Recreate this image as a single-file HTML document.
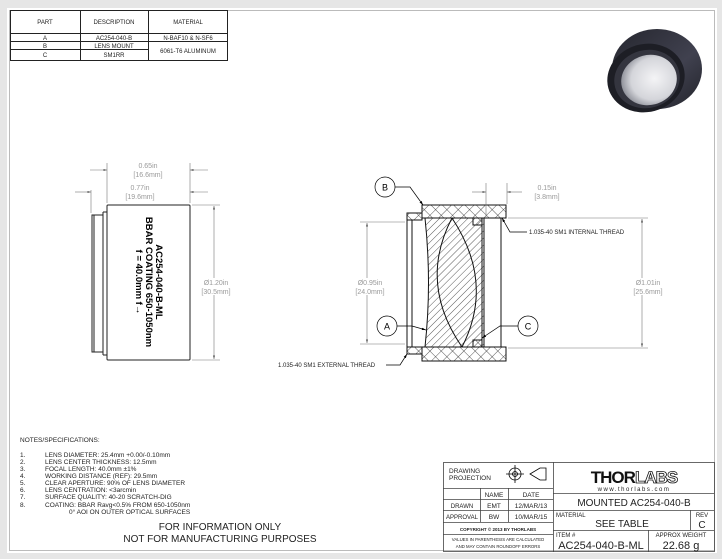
<!DOCTYPE html>
<html><head><meta charset="utf-8"><style>
html,body{margin:0;padding:0;background:#e6e6e6;}
svg{display:block;font-family:"Liberation Sans",sans-serif;}
</style></head><body>
<svg width="722" height="559" viewBox="0 0 722 559" xmlns="http://www.w3.org/2000/svg">
<defs>
<pattern id="h1" width="5" height="5" patternUnits="userSpaceOnUse" patternTransform="rotate(45)"><line x1="0" y1="0" x2="0" y2="5" stroke="#111" stroke-width="0.7"/></pattern>
<pattern id="hx" width="8" height="8" patternUnits="userSpaceOnUse" patternTransform="rotate(45)"><line x1="0" y1="0" x2="0" y2="8" stroke="#111" stroke-width="0.7"/><line x1="0" y1="0" x2="8" y2="0" stroke="#111" stroke-width="0.7"/></pattern>
<marker id="ar" viewBox="0 0 10 10" refX="10" refY="5" markerWidth="6" markerHeight="6" orient="auto-start-reverse"><path d="M0,2 L10,5 L0,8z" fill="#555"/></marker>
<marker id="ak" viewBox="0 0 10 10" refX="10" refY="5" markerWidth="6" markerHeight="6" orient="auto"><path d="M0,2 L10,5 L0,8z" fill="#000"/></marker>
<radialGradient id="lg" cx="0.6" cy="0.5" r="0.6"><stop offset="0" stop-color="#f4f4f6"/><stop offset="0.7" stop-color="#d4d5da"/><stop offset="1" stop-color="#8f919a"/></radialGradient>
<linearGradient id="bd" x1="0" y1="0" x2="1" y2="1"><stop offset="0" stop-color="#25262e"/><stop offset="0.6" stop-color="#40414f"/><stop offset="1" stop-color="#22232a"/></linearGradient>
</defs>
<rect x="7" y="8" width="710" height="545" fill="#fff"/>
<rect x="9.5" y="10.5" width="705" height="540" fill="none" stroke="#bbb" stroke-width="1"/>

<!-- parts table -->
<g stroke="#222" stroke-width="1" fill="none">
<rect x="10.5" y="10.5" width="217" height="50"/>
<line x1="10" y1="33.5" x2="228" y2="33.5"/>
<line x1="10" y1="41.5" x2="228" y2="41.5"/>
<line x1="10" y1="49.5" x2="148" y2="49.5"/>
<line x1="80.5" y1="10" x2="80.5" y2="61"/>
<line x1="148.5" y1="10" x2="148.5" y2="61"/>
</g>
<g font-size="6" fill="#222" text-anchor="middle">
<text x="45" y="24">PART</text><text x="114" y="24">DESCRIPTION</text><text x="188" y="24">MATERIAL</text>
<text x="45" y="40">A</text><text x="114" y="40">AC254-040-B</text><text x="188" y="40">N-BAF10 &amp; N-SF6</text>
<text x="45" y="48">B</text><text x="114" y="48">LENS MOUNT</text><text x="188" y="53">6061-T6 ALUMINUM</text>
<text x="45" y="57">C</text><text x="114" y="57">SM1RR</text>
</g>

<!-- product image -->
<g>
<ellipse cx="657" cy="69" rx="45" ry="40" fill="url(#bd)"/>
<ellipse cx="646" cy="78" rx="39" ry="34" transform="rotate(-15 646 78)" fill="#1d1e25"/>
<ellipse cx="647" cy="79" rx="33" ry="29" transform="rotate(-15 647 79)" fill="#34353f"/>
<ellipse cx="649" cy="80" rx="28" ry="25" transform="rotate(-15 649 80)" fill="url(#lg)"/>
</g>

<!-- left view -->
<g stroke="#222" fill="none" stroke-width="1">
<rect x="107" y="205" width="83" height="155" rx="1"/>
<rect x="92" y="215" width="11" height="137"/>
<line x1="103" y1="212" x2="103" y2="355"/><line x1="103" y1="212" x2="107" y2="212"/><line x1="103" y1="355" x2="107" y2="355"/>
<line x1="94" y1="215" x2="94" y2="352"/>
</g>
<g stroke="#777" stroke-width="0.6" fill="none">
<line x1="107" y1="163" x2="107" y2="203"/><line x1="190" y1="163" x2="190" y2="203"/><line x1="91" y1="190" x2="91" y2="213"/>
<line x1="90" y1="170" x2="107" y2="170" marker-end="url(#ar)"/><line x1="208" y1="170" x2="190" y2="170" marker-end="url(#ar)"/>
<line x1="75" y1="192" x2="91" y2="192" marker-end="url(#ar)"/><line x1="208" y1="192" x2="190" y2="192" marker-end="url(#ar)"/>
<line x1="192" y1="205" x2="220" y2="205"/><line x1="192" y1="360" x2="220" y2="360"/>
<line x1="214" y1="278" x2="214" y2="206" marker-end="url(#ar)"/><line x1="214" y1="295" x2="214" y2="359" marker-end="url(#ar)"/>
</g>
<g font-size="7" fill="#999" text-anchor="middle">
<text x="148" y="168">0.65in</text><text x="148" y="177">[16.6mm]</text>
<text x="140" y="190">0.77in</text><text x="140" y="199">[19.6mm]</text>
<text x="216" y="285">Ø1.20in</text><text x="216" y="294">[30.5mm]</text>
</g>
<g transform="translate(148,282) rotate(90)" font-size="9.5" font-weight="bold" text-anchor="middle" fill="#000">
<text x="0" y="-8">AC254-040-B-ML</text><text x="0" y="2">BBAR COATING 650-1050nm</text><text x="0" y="12">f = 40.0mm f→</text>
</g>

<!-- section view -->
<g stroke="#111" stroke-width="1">
<path d="M422,205 L506,205 L506,218 L422,218 Z" fill="url(#hx)"/>
<path d="M422,347 L506,347 L506,361 L422,361 Z" fill="url(#hx)"/>
<path d="M407,213 L422,213 L422,220 L407,220 Z" fill="url(#hx)"/>
<path d="M407,347 L422,347 L422,354 L407,354 Z" fill="url(#hx)"/>
<path d="M425,218 Q432,283 425,347 L484,347 L484,218 Z" fill="url(#h1)"/>
<path d="M452,218 Q418,283 462,347" fill="none"/>
<path d="M452,218 Q495,283 462,347" fill="none"/>
<rect x="473" y="218" width="9" height="7" fill="url(#hx)"/>
<rect x="473" y="340" width="9" height="7" fill="url(#hx)"/>
<line x1="482" y1="225" x2="482" y2="340"/>
<line x1="407" y1="220" x2="407" y2="347"/><line x1="412" y1="220" x2="412" y2="347"/>
<line x1="501" y1="218" x2="501" y2="347"/>
<line x1="422" y1="218" x2="506" y2="218"/><line x1="422" y1="347" x2="506" y2="347"/>
</g>
<g stroke="#777" stroke-width="0.6" fill="none">
<line x1="360" y1="222" x2="405" y2="222"/><line x1="360" y1="344" x2="405" y2="344"/>
<line x1="367" y1="278" x2="367" y2="223" marker-end="url(#ar)"/><line x1="367" y1="295" x2="367" y2="343" marker-end="url(#ar)"/>
<line x1="508" y1="218" x2="648" y2="218"/><line x1="508" y1="348" x2="648" y2="348"/>
<line x1="642" y1="278" x2="642" y2="219" marker-end="url(#ar)"/><line x1="642" y1="295" x2="642" y2="347" marker-end="url(#ar)"/>
<line x1="486" y1="183" x2="486" y2="218"/><line x1="507" y1="183" x2="507" y2="204"/>
<line x1="472" y1="192" x2="486" y2="192" marker-end="url(#ar)"/><line x1="522" y1="192" x2="507" y2="192" marker-end="url(#ar)"/>
</g>
<g stroke="#000" stroke-width="0.7" fill="none">
<circle cx="385" cy="187" r="10" fill="#fff"/><circle cx="387" cy="326" r="10" fill="#fff"/><circle cx="528" cy="326" r="10" fill="#fff"/>
<polyline points="395,187 410,187 423,205" marker-end="url(#ak)"/>
<polyline points="397,326 412,326 426,330" marker-end="url(#ak)"/>
<polyline points="518,326 500,326 482,338" marker-end="url(#ak)"/>
<polyline points="527,232 510,232 502,218" marker-end="url(#ak)"/>
<polyline points="386,365 400,365 407,354" marker-end="url(#ak)"/>
</g>
<g font-size="9" text-anchor="middle" fill="#000"><text x="385" y="190.5">B</text><text x="387" y="329.5">A</text><text x="528" y="329.5">C</text></g>
<g font-size="6" fill="#222"><text x="529" y="234">1.035-40 SM1 INTERNAL THREAD</text><text x="278" y="367">1.035-40 SM1 EXTERNAL THREAD</text></g>
<g font-size="7" fill="#999" text-anchor="middle">
<text x="547" y="190">0.15in</text><text x="547" y="199">[3.8mm]</text>
<text x="370" y="285">Ø0.95in</text><text x="370" y="294">[24.0mm]</text>
<text x="648" y="285">Ø1.01in</text><text x="648" y="294">[25.6mm]</text>
</g>

<!-- notes -->
<g font-size="6.5" fill="#222">
<text x="20" y="442">NOTES/SPECIFICATIONS:</text>
<text x="20" y="457">1.</text><text x="45" y="457">LENS DIAMETER: 25.4mm +0.00/-0.10mm</text>
<text x="20" y="464">2.</text><text x="45" y="464">LENS CENTER THICKNESS: 12.5mm</text>
<text x="20" y="471">3.</text><text x="45" y="471">FOCAL LENGTH: 40.0mm ±1%</text>
<text x="20" y="478">4.</text><text x="45" y="478">WORKING DISTANCE (REF): 29.5mm</text>
<text x="20" y="485">5.</text><text x="45" y="485">CLEAR APERTURE: 90% OF LENS DIAMETER</text>
<text x="20" y="492">6.</text><text x="45" y="492">LENS CENTRATION: &lt;3arcmin</text>
<text x="20" y="499">7.</text><text x="45" y="499">SURFACE QUALITY: 40-20 SCRATCH-DIG</text>
<text x="20" y="507">8.</text><text x="45" y="507">COATING: BBAR Ravg&lt;0.5% FROM 650-1050nm</text>
<text x="69" y="514">0° AOI ON OUTER OPTICAL SURFACES</text>
</g>
<g font-size="10" fill="#222" text-anchor="middle"><text x="220" y="530">FOR INFORMATION ONLY</text><text x="220" y="542">NOT FOR MANUFACTURING PURPOSES</text></g>

<!-- title block -->
<g stroke="#444" stroke-width="0.8" fill="none">
<rect x="443.5" y="462.5" width="271" height="89"/>
<line x1="553.5" y1="462" x2="553.5" y2="552"/>
<line x1="443" y1="488.5" x2="553" y2="488.5"/>
<line x1="443" y1="499.5" x2="553" y2="499.5"/>
<line x1="443" y1="510.5" x2="553" y2="510.5"/>
<line x1="443" y1="522.5" x2="553" y2="522.5"/>
<line x1="443" y1="534.5" x2="553" y2="534.5"/>
<line x1="480.5" y1="488" x2="480.5" y2="522"/>
<line x1="508.5" y1="488" x2="508.5" y2="522"/>
<line x1="553" y1="493.5" x2="714" y2="493.5"/>
<line x1="553" y1="510.5" x2="714" y2="510.5"/>
<line x1="553" y1="530.5" x2="714" y2="530.5"/>
<line x1="690.5" y1="510" x2="690.5" y2="530"/>
<line x1="648.5" y1="530" x2="648.5" y2="552"/>
<circle cx="515" cy="474" r="6" stroke="#000"/><circle cx="515" cy="474" r="2.5" stroke="#000"/>
<line x1="506" y1="474" x2="524" y2="474" stroke="#000"/><line x1="515" y1="465" x2="515" y2="483" stroke="#000"/>
<path d="M530,474 L540,468 L546,468 L546,480 L540,480 Z" stroke="#000"/>
</g>
<g fill="#222">
<text x="449" y="473" font-size="6.5">DRAWING</text><text x="449" y="480" font-size="6.5">PROJECTION</text>
<text x="494" y="497" font-size="6.5" text-anchor="middle">NAME</text><text x="531" y="497" font-size="6.5" text-anchor="middle">DATE</text>
<text x="462" y="508" font-size="6" text-anchor="middle">DRAWN</text><text x="494" y="508" font-size="6.5" text-anchor="middle">EMT</text><text x="531" y="508" font-size="6.5" text-anchor="middle">12/MAR/13</text>
<text x="462" y="519" font-size="6" text-anchor="middle">APPROVAL</text><text x="494" y="519" font-size="6.5" text-anchor="middle">BW</text><text x="531" y="519" font-size="6.5" text-anchor="middle">10/MAR/15</text>
<text x="498" y="531" font-size="4.5" font-weight="bold" text-anchor="middle">COPYRIGHT © 2013 BY THORLABS</text>
<text x="498" y="541" font-size="4.3" text-anchor="middle">VALUES IN PARENTHESIS ARE CALCULATED</text>
<text x="498" y="548" font-size="4.3" text-anchor="middle">AND MAY CONTAIN ROUNDOFF ERRORS</text>
<text x="634" y="483" font-size="17" font-weight="bold" text-anchor="middle" letter-spacing="-1" fill="#111">THOR<tspan fill="#fff" stroke="#111" stroke-width="0.8">LABS</tspan></text>
<text x="634" y="491" font-size="6" text-anchor="middle" letter-spacing="1.5">www.thorlabs.com</text>
<text x="634" y="506" font-size="10" text-anchor="middle">MOUNTED AC254-040-B</text>
<text x="556" y="517" font-size="6">MATERIAL</text><text x="622" y="527" font-size="10" text-anchor="middle">SEE TABLE</text>
<text x="702" y="517" font-size="6" text-anchor="middle">REV</text><text x="702" y="528" font-size="10" text-anchor="middle">C</text>
<text x="556" y="537" font-size="6">ITEM #</text><text x="601" y="549" font-size="11" text-anchor="middle">AC254-040-B-ML</text>
<text x="681" y="537" font-size="6" text-anchor="middle">APPROX WEIGHT</text><text x="681" y="549" font-size="11" text-anchor="middle">22.68 g</text>
</g>
</svg>
</body></html>
